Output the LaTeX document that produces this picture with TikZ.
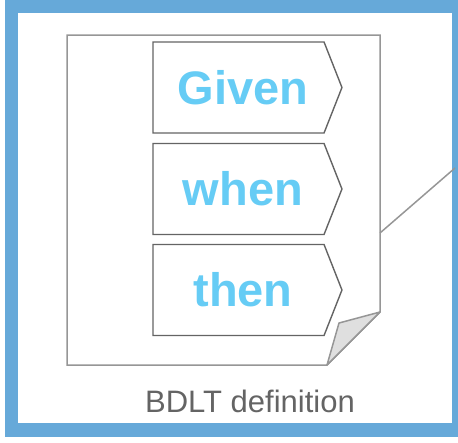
\documentclass[tikz,border=0pt]{standalone}
\usepackage{fontspec}
\setmainfont{Liberation Sans}
\usetikzlibrary{shapes.symbols}
\definecolor{framblue}{RGB}{102,169,217}
\definecolor{wordblue}{RGB}{102,204,245}
\definecolor{tagline}{RGB}{100,100,100}
\definecolor{pageline}{RGB}{150,150,150}
\definecolor{captgray}{RGB}{100,100,100}

\begin{document}
\begin{tikzpicture}[x=1pt, y=-1pt,
    keyword/.style={signal, signal to=east, signal pointer angle=137,
        draw=tagline, line width=1.4pt, fill=white,
        minimum width=189pt, minimum height=91pt, inner sep=0pt,
        text=wordblue, font=\fontsize{47}{47}\selectfont\bfseries}]
    \useasboundingbox (0,0) rectangle (458,442);
    % outer frame
    \draw[framblue, line width=13.5pt] (11.5,6.5) rectangle (459,430);
    % sheet with dog-ear
    \draw[pageline, line width=1.5pt, fill=white]
        (67,35) -- (380,35) -- (380,312) -- (327,365) -- (67,365) -- cycle;
    \draw[pageline, line width=1.5pt, fill=gray!25, line join=round]
        (380,312) -- (339,323) -- (327,365) -- cycle;
    % leader to the right edge
    \coordinate (pin) at (380,233);
    \coordinate (edge) at (455,168);
    \draw[pageline, line width=1.5pt] (pin) -- (edge);
    % the three steps
    \node[keyword] (given) at (238.5,87.5) {\hspace*{9pt}Given};
    \node[keyword] (when) at (238.5,189) {\hspace*{9pt}when};
    \node[keyword] (then) at (238.5,290) {\hspace*{9pt}then};
    \node[text=captgray, font=\fontsize{31}{31}\selectfont] (caption) at (250,401) {BDLT definition};
\end{tikzpicture}
\end{document}
